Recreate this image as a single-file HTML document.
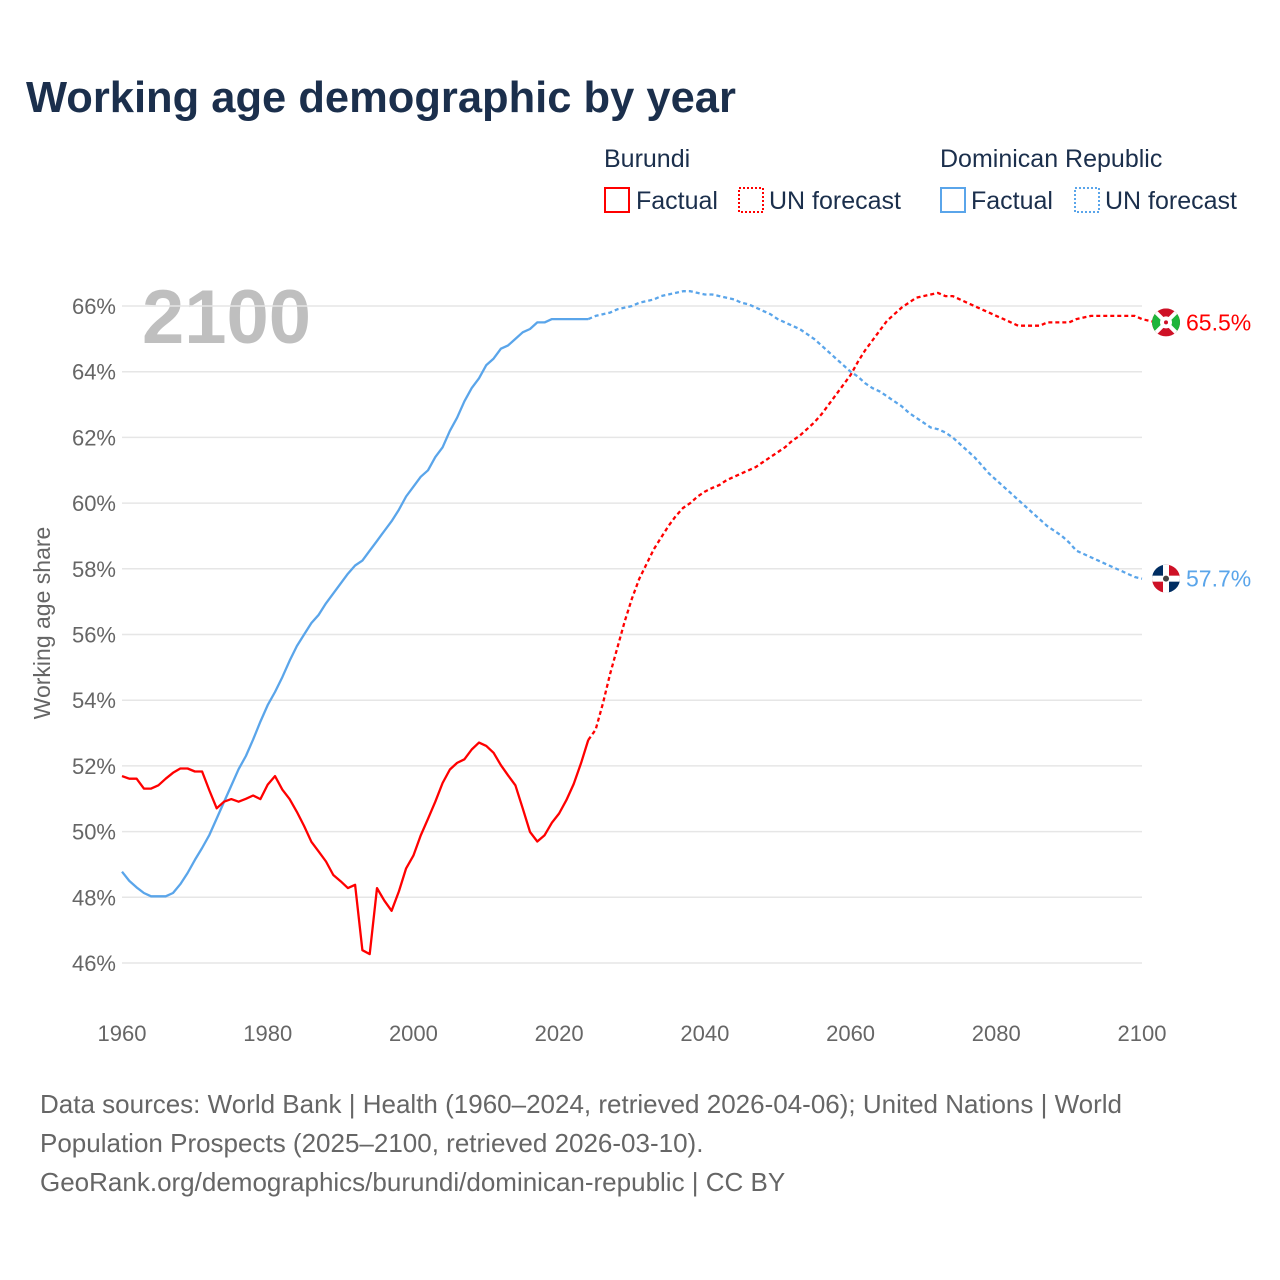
<!DOCTYPE html>
<html><head><meta charset="utf-8"><style>
body{margin:0;background:#fff;font-family:"Liberation Sans",sans-serif}
svg{display:block}
</style></head><body>
<svg id="c" width="1280" height="1280" viewBox="0 0 1280 1280">
<rect width="1280" height="1280" fill="#fff"/>
<text x="26" y="112" font-size="43.5" font-weight="bold" fill="#1b2f4c">Working age demographic by year</text>
<g font-size="25" fill="#1b2f4c">
<text x="604" y="167">Burundi</text>
<text x="940" y="167">Dominican Republic</text>
<g><rect x="605" y="188" width="24" height="24" fill="none" stroke="#f00" stroke-width="2"/><text x="636" y="209">Factual</text></g>
<g><rect x="739" y="188" width="24" height="24" fill="none" stroke="#f00" stroke-width="2" stroke-dasharray="2,2"/><text x="769" y="209">UN forecast</text></g>
<g><rect x="941" y="188" width="24" height="24" fill="none" stroke="#5aa5ea" stroke-width="2"/><text x="971" y="209">Factual</text></g>
<g><rect x="1075" y="188" width="24" height="24" fill="none" stroke="#5aa5ea" stroke-width="2" stroke-dasharray="2,2"/><text x="1105" y="209">UN forecast</text></g>
</g>
<text x="142" y="343" font-size="76" font-weight="bold" fill="#bfbfbf">2100</text>
<g id="grid"></g><g id="ticks"></g>
<text transform="translate(50,623) rotate(-90)" text-anchor="middle" font-size="23" fill="#666">Working age share</text>
<g id="lines"></g>
<g font-size="26" fill="#666">
<text x="40" y="1113">Data sources: World Bank | Health (1960–2024, retrieved 2026-04-06); United Nations | World</text>
<text x="40" y="1152">Population Prospects (2025–2100, retrieved 2026-03-10).</text>
<text x="40" y="1191">GeoRank.org/demographics/burundi/dominican-republic | CC BY</text>
</g>
</svg>
<script>
const yTicks=[46,48,50,52,54,56,58,60,62,64,66];
const xTicks=[1960,1980,2000,2020,2040,2060,2080,2100];
const burundiFactual=[51.69,51.61,51.61,51.31,51.31,51.41,51.61,51.79,51.92,51.92,51.83,51.83,51.25,50.71,50.91,50.99,50.91,51.0,51.1,50.99,51.43,51.69,51.28,50.99,50.6,50.17,49.69,49.39,49.09,48.68,48.49,48.28,48.38,46.39,46.27,48.28,47.9,47.59,48.18,48.88,49.27,49.88,50.39,50.91,51.48,51.89,52.09,52.2,52.5,52.71,52.61,52.4,52.02,51.71,51.41,50.71,49.99,49.7,49.89,50.27,50.55,50.96,51.45,52.08,52.79];
const burundiForecast=[52.79,53.1,53.9,54.8,55.6,56.4,57.1,57.7,58.15,58.6,58.95,59.3,59.6,59.85,60.0,60.2,60.35,60.46,60.55,60.7,60.8,60.9,61.0,61.1,61.25,61.4,61.55,61.7,61.9,62.05,62.25,62.45,62.7,63.0,63.3,63.6,63.9,64.3,64.65,64.95,65.25,65.55,65.75,65.95,66.1,66.25,66.3,66.35,66.4,66.3,66.3,66.2,66.1,66.0,65.9,65.8,65.7,65.6,65.5,65.4,65.4,65.4,65.4,65.5,65.5,65.5,65.5,65.6,65.65,65.7,65.7,65.7,65.7,65.7,65.7,65.7,65.6,65.55,65.5];
const drFactual=[48.78,48.5,48.3,48.13,48.03,48.03,48.03,48.13,48.4,48.74,49.14,49.5,49.9,50.4,50.9,51.4,51.9,52.3,52.8,53.35,53.85,54.25,54.7,55.2,55.65,56.0,56.35,56.6,56.95,57.25,57.55,57.85,58.1,58.25,58.55,58.85,59.15,59.45,59.8,60.2,60.5,60.8,61.0,61.4,61.7,62.2,62.6,63.1,63.5,63.8,64.2,64.4,64.7,64.8,65.0,65.2,65.3,65.5,65.5,65.6,65.6,65.6,65.6,65.6,65.6];
const drForecast=[65.6,65.7,65.75,65.8,65.9,65.95,66.0,66.1,66.15,66.2,66.3,66.35,66.4,66.45,66.45,66.4,66.35,66.35,66.3,66.25,66.2,66.1,66.05,65.95,65.85,65.75,65.6,65.5,65.4,65.3,65.15,65.0,64.8,64.6,64.4,64.2,64.0,63.85,63.65,63.5,63.4,63.25,63.1,62.95,62.75,62.6,62.45,62.3,62.25,62.15,62.0,61.8,61.6,61.4,61.15,60.9,60.7,60.5,60.3,60.1,59.9,59.7,59.5,59.3,59.15,59.0,58.8,58.55,58.45,58.35,58.25,58.15,58.05,57.95,57.85,57.75,57.7];
const NS='http://www.w3.org/2000/svg';
const X=y=>122+(y-1960)*(1020/140);
const Y=v=>306+(66-v)*32.85;
function mk(t,a,p){const e=document.createElementNS(NS,t);for(const k in a)e.setAttribute(k,a[k]);p.appendChild(e);return e;}
const grid=document.getElementById('grid'),ticks=document.getElementById('ticks'),lines=document.getElementById('lines');
yTicks.forEach(v=>{
 const l=mk('line',{x1:122,x2:1142,y1:Y(v),y2:Y(v),stroke:'#e6e6e6','stroke-width':1.5},grid);
 
 
 const t=mk('text',{x:116,y:Y(v)+8,'text-anchor':'end','font-size':22,fill:'#666'},ticks);t.textContent=v+'%';
 
 
});
xTicks.forEach(y=>{
 const t=mk('text',{x:X(y),y:1041,'text-anchor':'middle','font-size':22,fill:'#666'},ticks);t.textContent=y;
 
 
});
function path(arr,start,color,dash,name){
 const d=arr.map((v,i)=>(i?'L':'M')+X(start+i).toFixed(1)+','+Y(v).toFixed(1)).join('');
 const p=mk('path',{d:d,fill:'none',stroke:color,'stroke-width':2.3,'stroke-linejoin':'round'},lines);
 if(dash)p.setAttribute('stroke-dasharray',dash);
 
 
}
path(drFactual,1960,'#5aa5ea',null,'dr-factual-line');
path(drForecast,2024,'#5aa5ea','4,3','dr-forecast-line');
path(burundiFactual,1960,'#f00',null,'burundi-factual-line');
path(burundiForecast,2024,'#f00','4,3','burundi-forecast-line');
const bv=burundiForecast[burundiForecast.length-1],dv=drForecast[drForecast.length-1];
const fx=1166;
let g=mk('g',{},lines);


let by=Y(bv);
const cpb=mk('clipPath',{id:'cb'},g);mk('circle',{cx:fx,cy:by,r:14},cpb);
const gb=mk('g',{'clip-path':'url(#cb)'},g);
mk('rect',{x:fx-14,y:by-14,width:28,height:28,fill:'#ce1126'},gb);
mk('polygon',{points:`${fx-14},${by-14} ${fx},${by} ${fx-14},${by+14}`,fill:'#1eb53a'},gb);
mk('polygon',{points:`${fx+14},${by-14} ${fx},${by} ${fx+14},${by+14}`,fill:'#1eb53a'},gb);
mk('line',{x1:fx-14,y1:by-14,x2:fx+14,y2:by+14,stroke:'#fff','stroke-width':4},gb);
mk('line',{x1:fx+14,y1:by-14,x2:fx-14,y2:by+14,stroke:'#fff','stroke-width':4},gb);
mk('circle',{cx:fx,cy:by,r:6,fill:'#fff'},gb);
mk('circle',{cx:fx,cy:by,r:2,fill:'#ce1126'},gb);
let t=mk('text',{x:1186,y:by+8,'font-size':23,fill:'#f00'},lines);t.textContent=bv.toFixed(1)+'%';


let g2=mk('g',{},lines);


let dy=Y(dv);
const cp=mk('clipPath',{id:'cd'},g2);mk('circle',{cx:fx,cy:dy,r:14},cp);
const gd=mk('g',{'clip-path':'url(#cd)'},g2);
mk('rect',{x:fx-14,y:dy-14,width:14,height:14,fill:'#002d62'},gd);
mk('rect',{x:fx,y:dy-14,width:14,height:14,fill:'#ce1126'},gd);
mk('rect',{x:fx-14,y:dy,width:14,height:14,fill:'#ce1126'},gd);
mk('rect',{x:fx,y:dy,width:14,height:14,fill:'#002d62'},gd);
mk('rect',{x:fx-3,y:dy-14,width:6,height:28,fill:'#fff'},gd);
mk('rect',{x:fx-14,y:dy-3,width:28,height:6,fill:'#fff'},gd);
mk('circle',{cx:fx,cy:dy,r:3,fill:'#444'},gd);
t=mk('text',{x:1186,y:dy+8,'font-size':23,fill:'#5aa5ea'},lines);t.textContent=dv.toFixed(1)+'%';


</script>
</body></html>
